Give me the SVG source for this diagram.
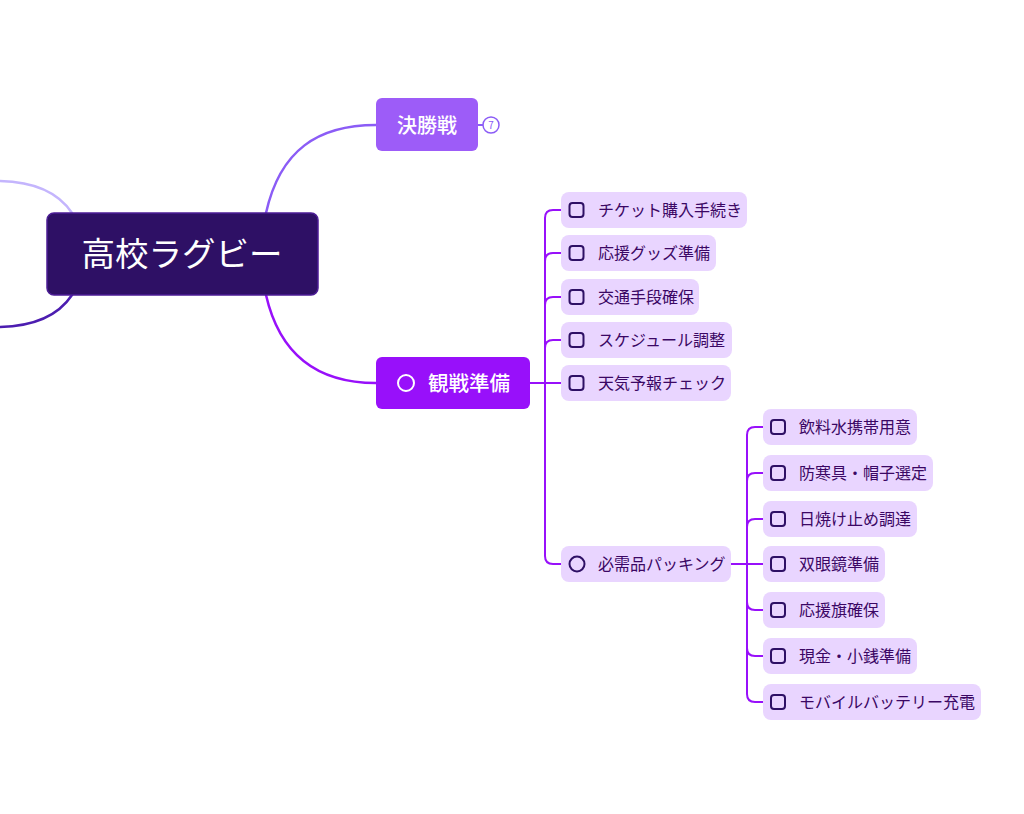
<svg xmlns="http://www.w3.org/2000/svg" width="1024" height="814" viewBox="0 0 1024 814">
<style>
text{font-family:"Noto Sans CJK JP","Noto Sans",sans-serif}
.leaf rect.bg{fill:#e9d5ff}
.leaf text{font-size:16px;fill:#3b0764}
.chk{fill:none;stroke:#2e1065;stroke-width:2}
.l1{fill:none;stroke:#9810fa;stroke-width:2}
</style>
<rect width="1024" height="814" fill="#ffffff"/>
<g id="connectors" fill="none" stroke-linecap="round">
<path d="M72,213 C58,192 32,181 -4,181" stroke="#c4b5fd" stroke-width="2.5"/>
<path d="M72,295 C58,316 32,327 -4,327" stroke="#4c1db0" stroke-width="2.5"/>
<path d="M266,213 C280,150 318,125 376,125" stroke="#8b5cf6" stroke-width="2.5"/>
<path d="M266,295 C280,356 318,383 376,383" stroke="#9810fa" stroke-width="2.5"/>
<path d="M478,125 H483" stroke="#8b5cf6" stroke-width="2"/>
<g class="l1">
<path d="M530,383 H545"/>
<path d="M545,383 V218 Q545,210 553,210 H561"/>
<path d="M545,383 V261 Q545,253 553,253 H561"/>
<path d="M545,383 V305 Q545,297 553,297 H561"/>
<path d="M545,383 V348 Q545,340 553,340 H561"/>
<path d="M545,383 H561"/>
<path d="M545,383 V556 Q545,564 553,564 H561"/>
<path d="M731,564 H747"/>
<path d="M747,564 V435 Q747,427 755,427 H763"/>
<path d="M747,564 V481 Q747,473 755,473 H763"/>
<path d="M747,564 V527 Q747,519 755,519 H763"/>
<path d="M747,564 H763"/>
<path d="M747,564 V602 Q747,610 755,610 H763"/>
<path d="M747,564 V648 Q747,656 755,656 H763"/>
<path d="M747,564 V694 Q747,702 755,702 H763"/>
</g>
</g>
<g id="root">
<rect x="47" y="213" width="271" height="82" rx="7" fill="#2e1065" stroke="#4c1d95" stroke-width="1.5"/>
<text x="182" y="266" font-size="33.5" fill="#ffffff" text-anchor="middle">高校ラグビー</text>
</g>
<g id="n-kesshousen">
<rect x="376" y="98" width="102" height="53" rx="6" fill="#9d5cf8"/>
<text x="427" y="133" font-size="20" font-weight="500" fill="#ffffff" text-anchor="middle">決勝戦</text>
<circle cx="491" cy="125" r="8" fill="#ffffff" stroke="#8b5cf6" stroke-width="1.5"/>
<text x="491" y="129" font-size="10" fill="#8b5cf6" text-anchor="middle">7</text>
</g>
<g id="n-kansen">
<rect x="376" y="357" width="154" height="52" rx="6" fill="#9810fa"/>
<circle cx="406" cy="383" r="8" fill="none" stroke="#ffffff" stroke-width="2"/>
<text x="428" y="391" font-size="20.5" font-weight="500" fill="#ffffff">観戦準備</text>
</g>
<g id="c1" class="leaf"><rect class="bg" x="561" y="192" width="186" height="36" rx="8"/><rect class="chk" x="569.5" y="203" width="14" height="14" rx="3"/><text x="598" y="216">チケット購入手続き</text></g>
<g id="c2" class="leaf"><rect class="bg" x="561" y="235" width="155" height="36" rx="8"/><rect class="chk" x="569.5" y="246" width="14" height="14" rx="3"/><text x="598" y="259">応援グッズ準備</text></g>
<g id="c3" class="leaf"><rect class="bg" x="561" y="279" width="138" height="36" rx="8"/><rect class="chk" x="569.5" y="290" width="14" height="14" rx="3"/><text x="598" y="303">交通手段確保</text></g>
<g id="c4" class="leaf"><rect class="bg" x="561" y="322" width="171" height="36" rx="8"/><rect class="chk" x="569.5" y="333" width="14" height="14" rx="3"/><text x="598" y="346">スケジュール調整</text></g>
<g id="c5" class="leaf"><rect class="bg" x="561" y="365" width="170" height="36" rx="8"/><rect class="chk" x="569.5" y="376" width="14" height="14" rx="3"/><text x="598" y="389">天気予報チェック</text></g>
<g id="c6" class="leaf"><rect class="bg" x="561" y="546" width="170" height="36" rx="8"/><circle class="chk" cx="577" cy="564" r="7.5"/><text x="598" y="570">必需品パッキング</text></g>
<g id="d1" class="leaf"><rect class="bg" x="763" y="409" width="154" height="36" rx="8"/><rect class="chk" x="771" y="420" width="14" height="14" rx="3"/><text x="799" y="433">飲料水携帯用意</text></g>
<g id="d2" class="leaf"><rect class="bg" x="763" y="455" width="170" height="36" rx="8"/><rect class="chk" x="771" y="466" width="14" height="14" rx="3"/><text x="799" y="479">防寒具・帽子選定</text></g>
<g id="d3" class="leaf"><rect class="bg" x="763" y="501" width="154" height="36" rx="8"/><rect class="chk" x="771" y="512" width="14" height="14" rx="3"/><text x="799" y="525">日焼け止め調達</text></g>
<g id="d4" class="leaf"><rect class="bg" x="763" y="546" width="122" height="36" rx="8"/><rect class="chk" x="771" y="557" width="14" height="14" rx="3"/><text x="799" y="570">双眼鏡準備</text></g>
<g id="d5" class="leaf"><rect class="bg" x="763" y="592" width="122" height="36" rx="8"/><rect class="chk" x="771" y="603" width="14" height="14" rx="3"/><text x="799" y="616">応援旗確保</text></g>
<g id="d6" class="leaf"><rect class="bg" x="763" y="638" width="154" height="36" rx="8"/><rect class="chk" x="771" y="649" width="14" height="14" rx="3"/><text x="799" y="662">現金・小銭準備</text></g>
<g id="d7" class="leaf"><rect class="bg" x="763" y="684" width="218" height="36" rx="8"/><rect class="chk" x="771" y="695" width="14" height="14" rx="3"/><text x="799" y="708">モバイルバッテリー充電</text></g>
</svg>
